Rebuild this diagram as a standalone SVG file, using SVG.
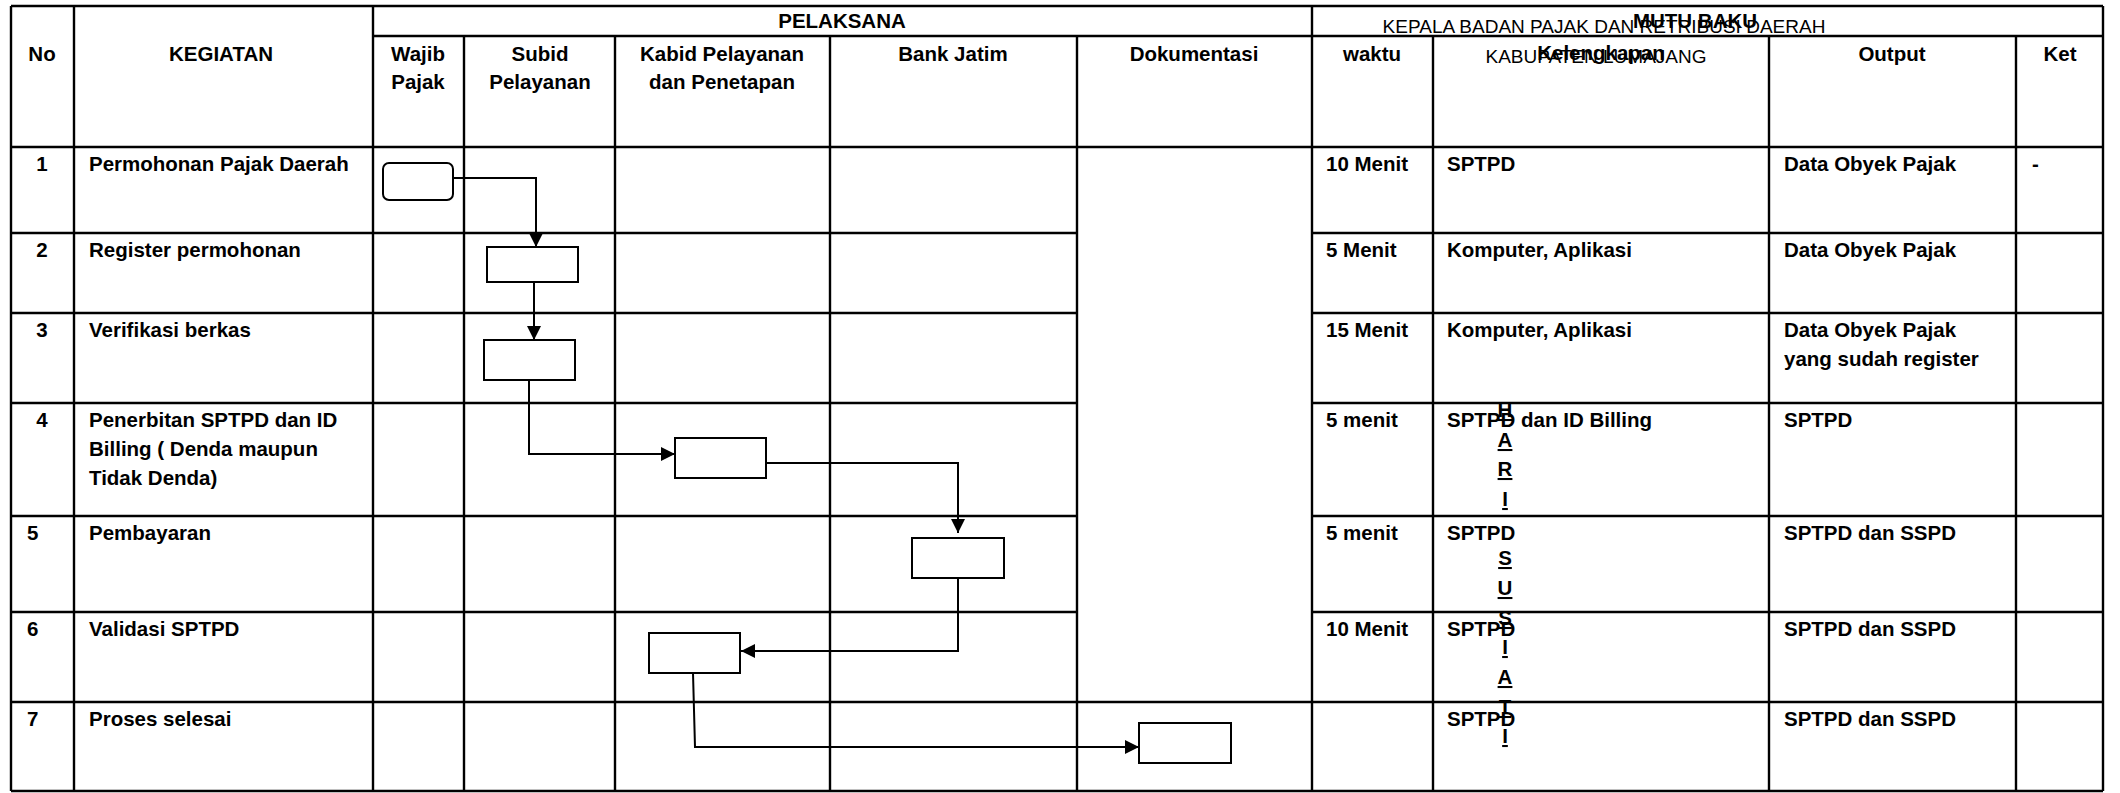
<svg xmlns="http://www.w3.org/2000/svg" width="2120" height="793" viewBox="0 0 2120 793">
<style>
.grid{stroke:#000;stroke-width:2.4;fill:none}
.b{font-family:"Liberation Sans",Arial,sans-serif;font-weight:bold;font-size:20.5px;fill:#000}
.r{font-family:"Liberation Sans",Arial,sans-serif;font-size:19px;fill:#000}
.c{text-anchor:middle}
.u{text-decoration:underline}
.box{fill:#fff;stroke:#000;stroke-width:2}
.con{fill:none;stroke:#000;stroke-width:2}
</style>
<defs>
<marker id="arr" viewBox="0 0 14 14" refX="14" refY="7" markerWidth="14" markerHeight="14" markerUnits="userSpaceOnUse" orient="auto">
<path d="M0,0 L14,7 L0,14 z" fill="#000"/>
</marker>
</defs>
<rect width="2120" height="793" fill="#fff"/>
<g id="table" class="grid">
<path d="M11,6 H2103 M373,36 H2103 M11,147 H2103 M11,233 H1077 M1312,233 H2103 M11,313 H1077 M1312,313 H2103 M11,403 H1077 M1312,403 H2103 M11,516 H1077 M1312,516 H2103 M11,612 H1077 M1312,612 H2103 M11,702 H2103 M11,791 H2103"/>
<path d="M11,6 V791 M74,6 V791 M373,6 V791 M464,36 V791 M615,36 V791 M830,36 V791 M1077,36 V791 M1312,6 V791 M1433,36 V791 M1769,36 V791 M2016,36 V791 M2103,6 V791"/>
</g>
<g id="header">
<text class="b c" x="42" y="61">No</text>
<text class="b c" x="221" y="61">KEGIATAN</text>
<text class="b c" x="842" y="28">PELAKSANA</text>
<text class="b c" x="418" y="61">Wajib</text>
<text class="b c" x="418" y="89">Pajak</text>
<text class="b c" x="540" y="61">Subid</text>
<text class="b c" x="540" y="89">Pelayanan</text>
<text class="b c" x="722" y="61">Kabid Pelayanan</text>
<text class="b c" x="722" y="89">dan Penetapan</text>
<text class="b c" x="953" y="61">Bank Jatim</text>
<text class="b c" x="1194" y="61">Dokumentasi</text>
<text class="r c" x="1604" y="33">KEPALA BADAN PAJAK DAN RETRIBUSI DAERAH</text>
<text class="r c" x="1596" y="63">KABUPATEN LUMAJANG</text>
<text class="b c" x="1695" y="28">MUTU BAKU</text>
<text class="b c" x="1372" y="61">waktu</text>
<text class="b c" x="1601" y="60">Kelengkapan</text>
<text class="b c" x="1892" y="61">Output</text>
<text class="b c" x="2060" y="61">Ket</text>
</g>
<g id="rows">
<text class="b c" x="42" y="171">1</text>
<text class="b" x="89" y="171">Permohonan Pajak Daerah</text>
<text class="b" x="1326" y="171">10 Menit</text>
<text class="b" x="1447" y="171">SPTPD</text>
<text class="b" x="1784" y="171">Data Obyek Pajak</text>
<text class="b" x="2032" y="171">-</text>
<text class="b c" x="42" y="257">2</text>
<text class="b" x="89" y="257">Register permohonan</text>
<text class="b" x="1326" y="257">5 Menit</text>
<text class="b" x="1447" y="257">Komputer, Aplikasi</text>
<text class="b" x="1784" y="257">Data Obyek Pajak</text>
<text class="b c" x="42" y="337">3</text>
<text class="b" x="89" y="337">Verifikasi berkas</text>
<text class="b" x="1326" y="337">15 Menit</text>
<text class="b" x="1447" y="337">Komputer, Aplikasi</text>
<text class="b" x="1784" y="337">Data Obyek Pajak</text>
<text class="b" x="1784" y="366">yang sudah register</text>
<text class="b c" x="42" y="427">4</text>
<text class="b" x="89" y="427">Penerbitan SPTPD dan ID</text>
<text class="b" x="89" y="456">Billing ( Denda maupun</text>
<text class="b" x="89" y="485">Tidak Denda)</text>
<text class="b" x="1326" y="427">5 menit</text>
<text class="b" x="1447" y="427">SPTPD dan ID Billing</text>
<text class="b" x="1784" y="427">SPTPD</text>
<text class="b" x="27" y="540">5</text>
<text class="b" x="89" y="540">Pembayaran</text>
<text class="b" x="1326" y="540">5 menit</text>
<text class="b" x="1447" y="540">SPTPD</text>
<text class="b" x="1784" y="540">SPTPD dan SSPD</text>
<text class="b" x="27" y="636">6</text>
<text class="b" x="89" y="636">Validasi SPTPD</text>
<text class="b" x="1326" y="636">10 Menit</text>
<text class="b" x="1447" y="636">SPTPD</text>
<text class="b" x="1784" y="636">SPTPD dan SSPD</text>
<text class="b" x="27" y="726">7</text>
<text class="b" x="89" y="726">Proses selesai</text>
<text class="b" x="1447" y="726">SPTPD</text>
<text class="b" x="1784" y="726">SPTPD dan SSPD</text>
</g>
<g id="signature-name">
<text class="b c u" x="1505" y="417">H</text>
<text class="b c u" x="1505" y="447">A</text>
<text class="b c u" x="1505" y="476">R</text>
<text class="b c u" x="1505" y="506">I</text>
<text class="b c u" x="1505" y="565">S</text>
<text class="b c u" x="1505" y="595">U</text>
<text class="b c u" x="1505" y="625">S</text>
<text class="b c u" x="1505" y="654">I</text>
<text class="b c u" x="1505" y="684">A</text>
<text class="b c u" x="1505" y="714">T</text>
<text class="b c u" x="1505" y="743">I</text>
</g>
<g id="connectors" class="con">
<path marker-end="url(#arr)" d="M453,178 H536 V247"/>
<path marker-end="url(#arr)" d="M534,282 V340"/>
<path marker-end="url(#arr)" d="M529,380 V454 H675"/>
<path marker-end="url(#arr)" d="M766,463 H958 V533"/>
<path marker-end="url(#arr)" d="M958,578 V651 H741"/>
<path marker-end="url(#arr)" d="M693,673 L695,747 H1139"/>
</g>
<g id="n1-start"><rect class="box" x="383" y="163" width="70" height="37" rx="6"/></g>
<g id="n2-register"><rect class="box" x="487" y="247" width="91" height="35"/></g>
<g id="n3-verifikasi"><rect class="box" x="484" y="340" width="91" height="40"/></g>
<g id="n4-penerbitan"><rect class="box" x="675" y="438" width="91" height="40"/></g>
<g id="n5-pembayaran"><rect class="box" x="912" y="538" width="92" height="40"/></g>
<g id="n6-validasi"><rect class="box" x="649" y="633" width="91" height="40"/></g>
<g id="n7-selesai"><rect class="box" x="1139" y="723" width="92" height="40"/></g>
</svg>
